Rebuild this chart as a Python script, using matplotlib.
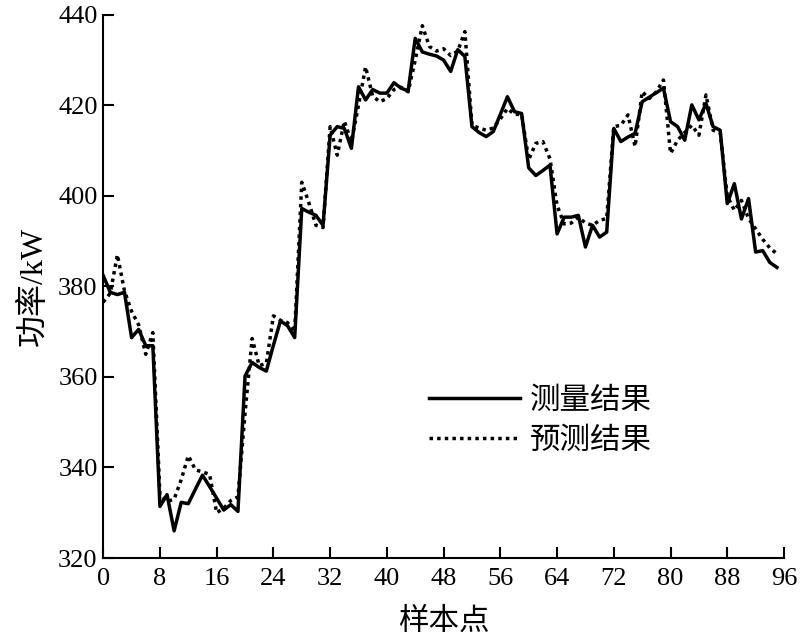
import matplotlib.pyplot as plt
import numpy as np

plt.rcParams['font.family'] = ['Liberation Serif', 'Noto Sans CJK SC', 'DejaVu Sans']

# sample index 0..95
samples = np.arange(96)

measured = [382.4, 378.7, 378.2, 378.7, 368.7, 370.5, 366.9, 366.9,
            331.4, 334.0, 326.0, 332.3, 332.0, 335.2, 338.3, 335.8,
            333.2, 330.6, 331.8, 330.3, 360.2, 363.2, 362.1, 361.3,
            367.0, 372.4, 371.3, 368.7, 397.2, 396.4, 395.7, 393.5,
            413.4, 415.3, 414.9, 410.5, 424.1, 421.2, 423.5, 422.7,
            422.7, 425.0, 423.8, 423.2, 434.8, 431.8, 431.3, 430.9,
            430.0, 427.5, 432.3, 430.8, 415.3, 414.0, 413.1, 414.2,
            418.0, 421.9, 418.6, 418.2, 406.2, 404.5, 405.6, 406.8,
            391.6, 395.3, 395.3, 395.7, 388.7, 393.5, 390.9, 392.0,
            414.9, 412.0, 413.0, 413.8, 420.8, 421.8, 422.8, 423.8,
            416.4, 415.3, 412.3, 420.1, 416.8, 420.4, 415.3, 414.5,
            398.3, 402.7, 394.9, 399.4, 387.6, 387.9, 385.3, 384.2]

predicted = [376.5, 378.5, 387.0, 379.0, 374.5, 371.5, 365.0, 369.8,
             334.0, 332.5, 333.0, 337.3, 342.6, 339.5, 339.0, 338.5,
             330.0, 331.0, 332.7, 333.5, 352.0, 368.5, 362.5, 363.0,
             373.5, 372.5, 372.0, 370.0, 403.0, 398.5, 393.5, 393.0,
             415.3, 409.0, 416.5, 412.0, 420.0, 428.5, 422.0, 420.8,
             421.5, 423.5, 424.0, 423.0, 430.0, 437.6, 433.0, 432.0,
             432.5, 431.0, 432.0, 436.3, 415.6, 415.0, 414.5, 415.0,
             417.0, 419.3, 418.0, 418.0, 408.0, 411.6, 412.0, 408.2,
             397.9, 393.8, 394.0, 395.3, 394.0, 393.5, 394.6, 395.0,
             415.3, 415.6, 417.9, 410.9, 423.0, 421.5, 423.0, 425.6,
             409.4, 412.3, 414.0, 415.6, 413.4, 422.3, 414.5, 414.0,
             400.0, 396.8, 399.0, 395.0, 392.7, 390.4, 388.5, 387.2]

fig = plt.figure(figsize=(8, 6.44), dpi=100)
ax = fig.add_axes([0.129, 0.1335, 0.851, 0.8435])

ax.plot(samples, measured, color='black', lw=2.5, label='测量结果')
ax.plot(samples, predicted, color='black', lw=2.5, linestyle=(0, (1, 1.2)), label='预测结果')

ax.set_xlim(0, 96)
ax.set_ylim(320, 440)
ax.set_xticks(np.arange(0, 97, 8))
ax.set_yticks(np.arange(320, 441, 20))

for side in ['top', 'right']:
    ax.spines[side].set_visible(False)
for side in ['left', 'bottom']:
    ax.spines[side].set_linewidth(1.5)

ax.tick_params(direction='in', length=8, width=1.5, labelsize=19)
ax.tick_params(axis='x', pad=7)
ax.tick_params(axis='y', pad=4)

ax.set_xlabel('样本点', fontsize=22, labelpad=13)
ax.set_ylabel('功率/kW', fontsize=23, labelpad=7)

ax.legend(loc='upper left', bbox_to_anchor=(0.46, 0.337), frameon=False,
          fontsize=22, handlelength=3.0, handletextpad=0.3, labelspacing=0.35,
          borderaxespad=0)

fig.savefig('out.png', dpi=100)
